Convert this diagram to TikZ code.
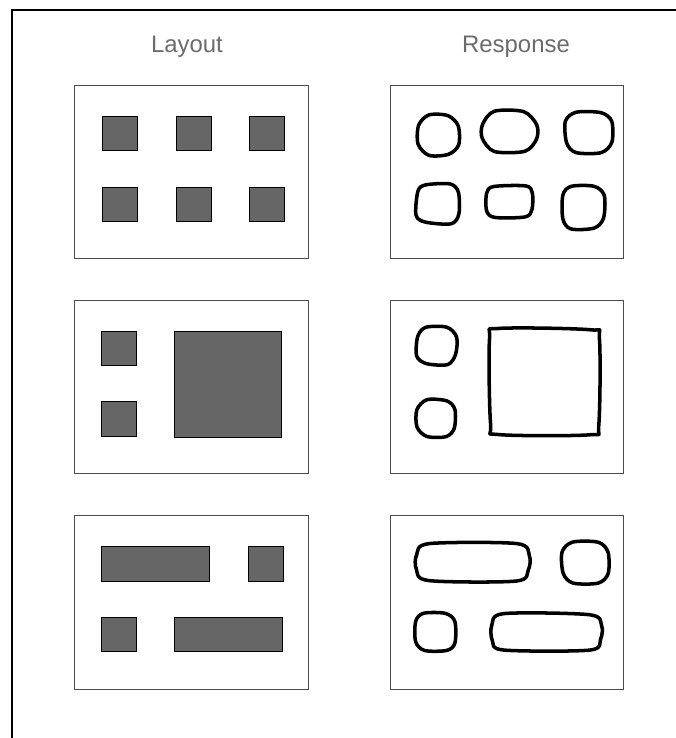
\documentclass[tikz,border=0pt]{standalone}
\usepackage{fontspec}
\newfontfamily\headfont{Liberation Sans}

% hand drawn outline: x1 y1 x2 y2 corner
\newcommand{\sketchbox}[5]{%
  \draw[sketch] plot[smooth cycle, tension=0.5] coordinates {
    ({#1+#5+rand},{#2+rand}) ({#3-#5+rand},{#2+rand})
    ({#3+rand},{#2+#5+rand}) ({#3+rand},{#4-#5+rand})
    ({#3-#5+rand},{#4+rand}) ({#1+#5+rand},{#4+rand})
    ({#1+rand},{#4-#5+rand}) ({#1+rand},{#2+#5+rand})};}

\begin{document}
\begin{tikzpicture}[x=0.025cm,y=-0.025cm,
  panel/.style={draw=black!70, line width=0.7pt},
  block/.style={draw=black, fill=black!60, line width=0.6pt},
  sketch/.style={draw=black, line width=2.5pt, line join=round},
  head/.style={anchor=base, text=black!58, font=\headfont\fontsize{17}{20}\selectfont}]

  \useasboundingbox (0,0) rectangle (676,738);
  \pgfmathsetseed{11}

  % frame
  \draw[line width=0.8pt] (676,10) -- (12,10) -- (12,738);

  \node[head] (layout) at (187,52) {Layout};
  \node[head] (response) at (516,52) {Response};

  % panels
  \foreach \ya/\yb in {85/258, 300/473, 515/689} {
    \draw[panel] (74,\ya) rectangle (308,\yb);
    \draw[panel] (390,\ya) rectangle (623,\yb);
  }

  % layout, row 1
  \foreach \x in {102,176,249}
    \foreach \y in {116,187}
      \draw[block] (\x,\y) rectangle ++(35,34);

  % layout, row 2
  \draw[block] (101,331) rectangle (136,365);
  \draw[block] (101,401) rectangle (136,436);
  \draw[block] (174,331) rectangle (281,437);

  % layout, row 3
  \draw[block] (101,546) rectangle (209,581);
  \draw[block] (248,546) rectangle (283,581);
  \draw[block] (101,617) rectangle (136,651);
  \draw[block] (174,617) rectangle (282,651);

  % response, row 1
  \sketchbox{418}{115}{458}{155}{10}
  \sketchbox{482}{112}{536}{151}{12}
  \sketchbox{566}{112}{611}{153}{10}
  \sketchbox{417}{184}{459}{223}{8}
  \sketchbox{487}{186}{532}{217}{7}
  \sketchbox{562}{186}{604}{228}{9}

  % response, row 2
  \sketchbox{417}{328}{456}{364}{9}
  \sketchbox{417}{400}{455}{437}{9}
  \sketchbox{490}{329}{599}{434}{9}

  % response, row 3
  \sketchbox{417}{543}{529}{581}{12}
  \sketchbox{563}{543}{608}{583}{9}
  \sketchbox{416}{614}{454}{650}{8}
  \sketchbox{492}{614}{601}{651}{11}
\end{tikzpicture}
\end{document}
